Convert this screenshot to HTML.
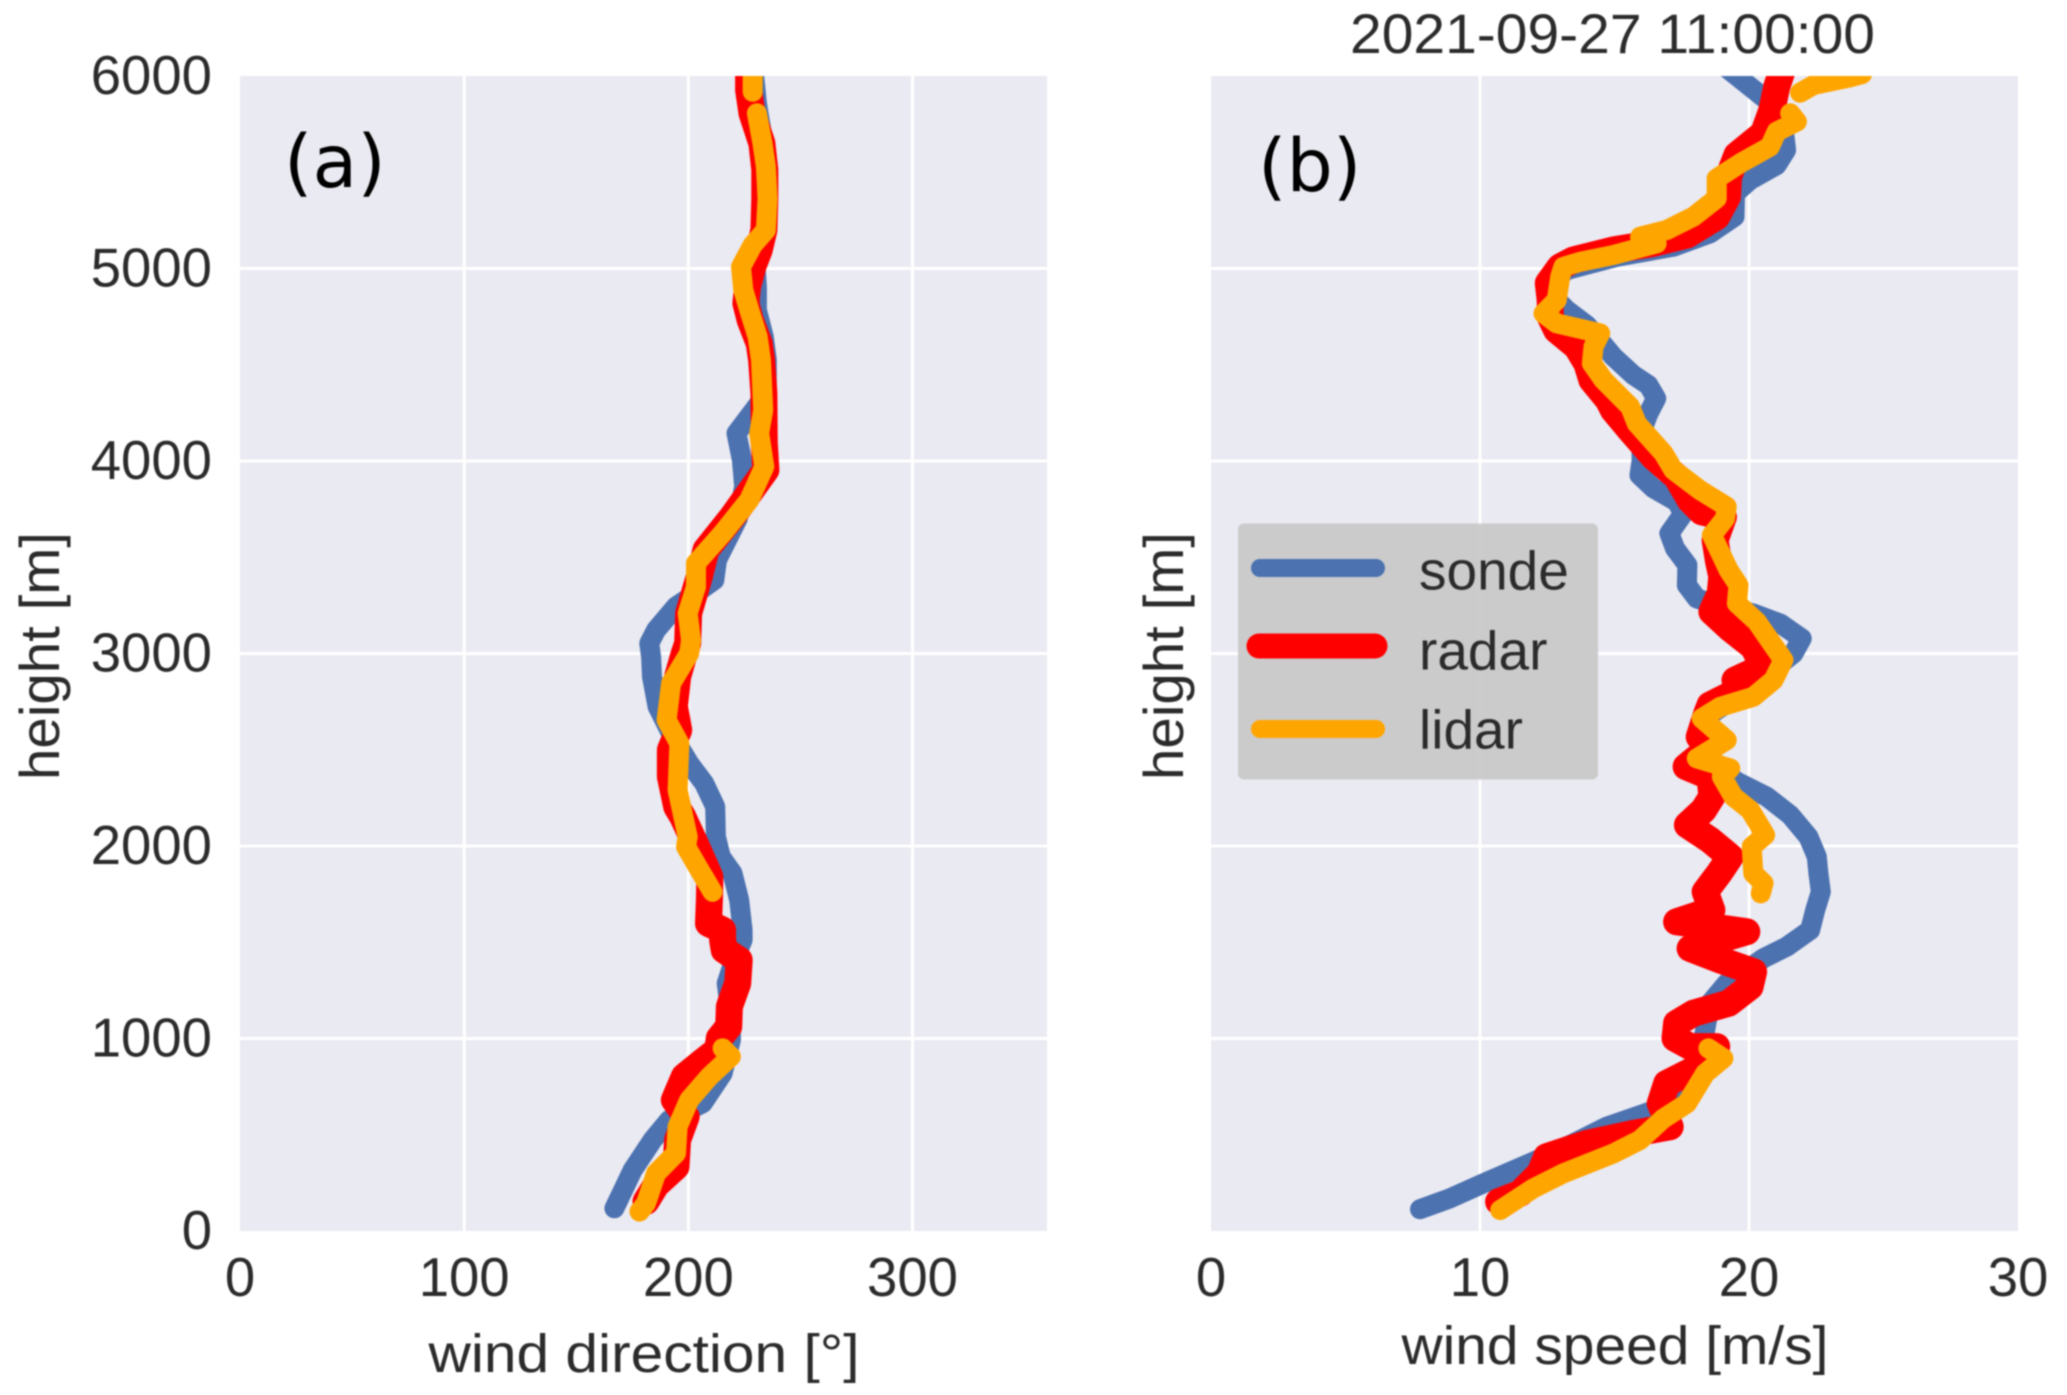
<!DOCTYPE html>
<html lang="en">
<head>
<meta charset="utf-8">
<title>Wind profile 2021-09-27 11:00:00</title>
<style>
  html, body { margin: 0; padding: 0; background: #ffffff; }
  body { width: 2067px; height: 1395px; overflow: hidden; }
  svg { display: block; filter: blur(0.8px); }
  text { font-family: "Liberation Sans", Arial, sans-serif; fill: #2b2b2b; }
  .panel-tag { font-family: "DejaVu Sans", sans-serif; fill: #000000; font-size: 73px; }
</style>
</head>
<body>
<svg id="chart" xmlns="http://www.w3.org/2000/svg" width="2067" height="1395" viewBox="0 0 2067 1395">
  <defs>
    <clipPath id="clip-left"><rect x="240" y="76" width="807" height="1155"/></clipPath>
    <clipPath id="clip-right"><rect x="1211" y="76" width="807" height="1155"/></clipPath>
  </defs>
  <rect x="240" y="76" width="807" height="1155" fill="#EAEAF2"/>
  <rect x="1211" y="76" width="807" height="1155" fill="#EAEAF2"/>
  <g id="grid-left"></g>
  <g id="grid-right"></g>
  <g id="series-left" clip-path="url(#clip-left)"></g>
  <g id="series-right" clip-path="url(#clip-right)"></g>
  <g id="ticks"></g>

  <text class="panel-tag" x="284" y="187">(a)</text>
  <text class="panel-tag" x="1258" y="191">(b)</text>
  <text x="1612.5" y="53" font-size="56" text-anchor="middle" textLength="525" lengthAdjust="spacingAndGlyphs">2021-09-27 11:00:00</text>
  <text x="644" y="1372" font-size="54" text-anchor="middle" textLength="431" lengthAdjust="spacingAndGlyphs">wind direction [°]</text>
  <text x="1615" y="1364" font-size="54" text-anchor="middle" textLength="427" lengthAdjust="spacingAndGlyphs">wind speed [m/s]</text>
  <text transform="translate(59,656) rotate(-90)" font-size="56" text-anchor="middle" textLength="248" lengthAdjust="spacingAndGlyphs">height [m]</text>
  <text transform="translate(1183,656) rotate(-90)" font-size="56" text-anchor="middle" textLength="248" lengthAdjust="spacingAndGlyphs">height [m]</text>

  <g>
    <rect x="1244" y="523.5" width="360" height="256" rx="6" ry="6" fill="rgb(200,200,201)" fill-opacity="0.92" transform="translate(-6,0)"/>
    <g>
      <line x1="1260" y1="568" x2="1376" y2="568" stroke="#4C72B0" stroke-width="18" stroke-linecap="round"/>
      <text x="1419" y="589.5" font-size="55">sonde</text>
    </g>
    <g>
      <line x1="1259" y1="646" x2="1375" y2="646" stroke="#FF0000" stroke-width="25" stroke-linecap="round"/>
      <text x="1419" y="669.5" font-size="55">radar</text>
    </g>
    <g>
      <line x1="1260" y1="729" x2="1376" y2="729" stroke="#FFA500" stroke-width="18" stroke-linecap="round"/>
      <text x="1419" y="748.5" font-size="55">lidar</text>
    </g>
  </g>
</svg>
<script>
const directionTicks = [0, 100, 200, 300];
const speedTicks = [0, 10, 20, 30];
const heightTicks = [0, 1000, 2000, 3000, 4000, 5000, 6000];

const sondeDirHeight = [6100, 6031, 5858, 5700, 5512, 5364, 5200, 5009, 4905, 4784, 4646, 4525, 4352, 4144, 4005, 3867, 3700, 3486, 3382, 3313, 3244, 3122, 3053, 2983, 2879, 2724, 2602, 2429, 2325, 2204, 2048, 1944, 1858, 1719, 1563, 1512, 1408, 1287, 1114, 992, 819, 664, 577, 473, 317, 118];
const sondeDirection = [228.7, 229.1, 230.6, 232.8, 234, 234.6, 233.5, 230, 230.6, 230.6, 233.6, 235, 235, 221.5, 223.9, 224.9, 222, 212.8, 211.6, 203.4, 194.5, 185.6, 182.6, 183.4, 183.8, 186.3, 191.5, 200.4, 207.1, 212, 212.3, 214.5, 219.7, 222.7, 224.2, 224.2, 220.5, 217.1, 219, 219, 215.3, 206.4, 191.5, 184.1, 175.2, 167];

const radarDirHeight = [6066, 5927, 5806, 5650, 5512, 5364, 5200, 5096, 5009, 4905, 4819, 4732, 4611, 4525, 4352, 4092, 3954, 3711, 3538, 3399, 3209, 3053, 3001, 2879, 2724, 2602, 2499, 2360, 2204, 2152, 1996, 1840, 1719, 1598, 1563, 1512, 1460, 1408, 1287, 1166, 1062, 1001, 941, 880, 802, 681, 594, 473, 334, 239, 153];
const radarDirection = [226.9, 226.9, 228.4, 232.8, 234.1, 234.1, 233.7, 231.6, 228.7, 226.4, 225.7, 227.6, 231.6, 232.7, 233.7, 233.9, 234.6, 219.7, 207.9, 204.9, 200.1, 199.7, 198.2, 195.2, 193.8, 195.7, 192, 192, 194.8, 197.5, 203.7, 209.6, 209.4, 209, 215.3, 215.3, 216, 222.7, 222, 218.3, 218, 213.8, 213.1, 206.4, 198.2, 193.8, 199, 195.2, 194.5, 185.6, 181.1];

const lidarDirHeight = [6066, 5988, 5918, null, 5806, 5650, 5529, 5364, 5200, 5122, 5009, 4888, 4784, 4646, 4525, 4265, 4144, 3971, 3798, 3625, 3469, 3347, 3209, 3070, 3001, 2845, 2654, 2533, 2291, 2048, 1996, 1892, 1762, null, 949, 906, 802, 681, 542, 404, 300, 144, 101];
const lidarDirection = [228.4, 228.7, 228.7, null, 230.6, 233.1, 234.6, 235.3, 234.6, 228.7, 223.5, 224.5, 227.2, 230.9, 232.4, 233.4, 231.6, 233.9, 227.2, 215.3, 203.4, 203.4, 199.7, 201.2, 200.4, 192.3, 190.3, 196, 195.2, 199.7, 199, 204.2, 210.8, null, 215.3, 219, 209.4, 200.4, 195.2, 194.5, 185.6, 181.1, 178.2];

const sondeSpeedHeight = [6083, 5875, 5737, 5615, 5537, 5460, 5390, 5269, 5183, 5113, 5061, 4992, 4923, 4853, 4784, 4706, 4542, 4447, 4395, 4325, 4247, 4143, 4005, 3927, 3858, 3789, 3728, 3624, 3546, 3459, 3355, 3286, 3251, 3208, 3156, 3078, 3000, 2931, 2827, 2706, 2637, 2533, 2412, 2334, 2256, 2161, 2048, 1944, 1858, 1762, 1667, 1563, 1477, 1417, 1356, 1287, 1183, 1044, 906, 802, 681, 620, 542, 455, 360, 248, 170, 113];
const sondeSpeed = [18.8, 20.66, 21.28, 21.38, 21.03, 20.04, 19.48, 19.46, 18.55, 17.19, 15.08, 13.23, 12.61, 12.73, 13.23, 13.97, 14.96, 15.7, 16.26, 16.55, 16.26, 15.98, 16.01, 15.93, 16.45, 17.31, 17.56, 17.04, 17.25, 17.71, 17.69, 18.06, 18.8, 20.16, 21.16, 21.96, 21.65, 21.03, 20.16, 18.8, 18.18, 18.18, 18.8, 19.55, 20.66, 21.53, 22.21, 22.52, 22.58, 22.67, 22.46, 22.27, 21.4, 20.54, 19.92, 19.17, 18.55, 18.37, 18.18, 17.93, 17.31, 16.32, 14.71, 13.47, 11.99, 10.13, 8.89, 7.77];

const radarSpeedHeight = [6048, 5944, 5823, 5702, 5589, 5477, 5373, 5269, 5174, 5131, 5096, 5044, 5009, 4923, 4836, 4750, 4680, 4594, 4507, 4421, 4317, 4265, 4161, 4022, 3918, 3797, 3736, 3710, 3589, 3485, 3399, 3312, 3217, 3130, 3035, 2931, 2862, 2827, 2793, 2732, 2689, 2567, 2542, 2412, 2360, 2256, 2187, 2109, 2031, 1944, 1866, 1762, 1667, 1606, 1555, 1468, 1408, 1347, 1269, 1183, 1131, 1079, 1001, 958, 958, 854, 767, 663, 542, 507, 455, 386, 300, 196, 152];
const radarSpeed = [21.28, 21.03, 20.85, 20.54, 19.55, 19.24, 19.2, 18.8, 17.69, 16.45, 14.96, 13.47, 12.98, 12.54, 12.61, 12.61, 12.85, 13.6, 13.97, 14.16, 14.77, 14.96, 15.58, 16.45, 17.31, 17.81, 18.24, 19.05, 18.74, 18.86, 18.99, 18.93, 18.62, 19.3, 20.16, 20.54, 19.48, 20.29, 19.42, 18.55, 18.43, 18.15, 18.8, 17.66, 18.55, 18.62, 18.31, 17.71, 18.55, 19.3, 18.93, 18.37, 18.62, 17.31, 19.92, 17.81, 18.93, 20.17, 20.04, 19.24, 17.93, 17.31, 17.25, 17.81, 18.8, 18.18, 16.94, 16.7, 17.07, 15.7, 13.97, 12.48, 12.23, 11.49, 10.69];

const lidarSpeedHeight = [6010, 5993, 5953, 5913, null, 5806, 5763, 5711, 5633, 5546, 5468, 5364, 5269, 5200, 5165, 5131, 5070, 5035, 5009, 4957, 4836, 4767, 4715, 4663, 4594, 4507, 4421, 4282, 4195, 4040, 3953, 3849, 3763, 3702, 3615, 3433, 3355, 3260, 3165, 2966, 2862, 2775, 2723, 2663, 2550, 2455, 2403, 2360, 2256, 2187, 2057, 1996, 1858, 1806, 1754, null, 949, 897, 819, 663, 585, 473, 403, 300, 222, 109];
const lidarSpeed = [24.2, 23.76, 22.4, 21.9, null, 21.53, 21.78, 21.03, 20.78, 19.67, 18.8, 18.8, 17.93, 16.94, 15.95, 16.57, 14.96, 13.72, 13.1, 12.98, 12.85, 12.36, 12.85, 14.47, 14.22, 14.16, 14.59, 15.58, 15.83, 16.82, 17.19, 18.18, 19.17, 19.11, 18.62, 19.24, 19.61, 19.55, 20.29, 21.28, 20.91, 20.16, 18.93, 18.24, 19.17, 18.06, 19.3, 18.99, 19.42, 20.04, 20.6, 20.1, 20.16, 20.54, 20.44, null, 18.49, 19.05, 18.37, 17.69, 16.82, 15.95, 14.96, 13.1, 11.99, 10.75];

const SVG_NS = 'http://www.w3.org/2000/svg';
const xDirection = function (v) { return 240 + v * (807 / 360); };
const xSpeed = function (v) { return 1211 + v * (807 / 30); };
const yHeight = function (h) { return 1231 - h * (1155 / 6000); };

function svgEl(tag, parent) {
  const el = document.createElementNS(SVG_NS, tag);
  parent.appendChild(el);
  return el;
}

function gridLine(parent, x1, y1, x2, y2, label) {
  const l = svgEl('line', parent);
  
  
  l.setAttribute('x1', x1);
  l.setAttribute('y1', y1);
  l.setAttribute('x2', x2);
  l.setAttribute('y2', y2);
  l.setAttribute('stroke', '#ffffff');
  l.setAttribute('stroke-width', '3');
}

function tickText(parent, x, y, anchor, content, label) {
  const t = svgEl('text', parent);
  
  
  t.setAttribute('x', x);
  t.setAttribute('y', y);
  t.setAttribute('text-anchor', anchor);
  t.setAttribute('font-size', '54.5');
  t.textContent = content;
}

function drawSeries(parent, xFn, values, heights, color, width, label) {
  let d = '';
  let pen = false;
  for (let i = 0; i < values.length; i++) {
    if (values[i] === null || heights[i] === null) { pen = false; continue; }
    d += (pen ? 'L' : 'M') + xFn(values[i]).toFixed(1) + ' ' + yHeight(heights[i]).toFixed(1);
    pen = true;
  }
  const p = svgEl('path', parent);
  
  
  p.setAttribute('d', d);
  p.setAttribute('fill', 'none');
  p.setAttribute('stroke', color);
  p.setAttribute('stroke-width', width);
  p.setAttribute('stroke-linecap', 'round');
  p.setAttribute('stroke-linejoin', 'round');
}

const gridLeft = document.getElementById('grid-left');
const gridRight = document.getElementById('grid-right');
const tickGroup = document.getElementById('ticks');
const seriesLeft = document.getElementById('series-left');
const seriesRight = document.getElementById('series-right');

directionTicks.forEach(function (v) {
  if (v > 0) gridLine(gridLeft, xDirection(v), 76, xDirection(v), 1231, 'direction-gridline-x');
  tickText(tickGroup, xDirection(v), 1296, 'middle', String(v), 'direction-x-tick-label');
});
speedTicks.forEach(function (v) {
  if (v > 0 && v < 30) gridLine(gridRight, xSpeed(v), 76, xSpeed(v), 1231, 'speed-gridline-x');
  tickText(tickGroup, xSpeed(v), 1296, 'middle', String(v), 'speed-x-tick-label');
});
heightTicks.forEach(function (h) {
  if (h > 0 && h < 6000) {
    gridLine(gridLeft, 240, yHeight(h), 1047, yHeight(h), 'direction-gridline-y');
    gridLine(gridRight, 1211, yHeight(h), 2018, yHeight(h), 'speed-gridline-y');
  }
  tickText(tickGroup, 212, yHeight(h) + 18, 'end', String(h), 'height-tick-label');
});

drawSeries(seriesLeft, xDirection, sondeDirection, sondeDirHeight, '#4C72B0', 20, 'sonde-direction-line');
drawSeries(seriesLeft, xDirection, radarDirection, radarDirHeight, '#FF0000', 27, 'radar-direction-line');
drawSeries(seriesLeft, xDirection, lidarDirection, lidarDirHeight, '#FFA500', 20, 'lidar-direction-line');
drawSeries(seriesRight, xSpeed, sondeSpeed, sondeSpeedHeight, '#4C72B0', 20, 'sonde-speed-line');
drawSeries(seriesRight, xSpeed, radarSpeed, radarSpeedHeight, '#FF0000', 27, 'radar-speed-line');
drawSeries(seriesRight, xSpeed, lidarSpeed, lidarSpeedHeight, '#FFA500', 20, 'lidar-speed-line');
</script>
</body>
</html>
